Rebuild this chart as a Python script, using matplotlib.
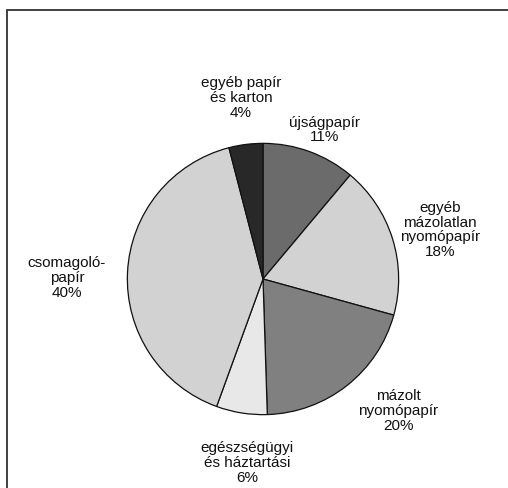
import matplotlib.pyplot as plt
from matplotlib.patches import Rectangle

# paper types and their share (%), clockwise from 12 o'clock
labels = ["újságpapír", "egyéb\nmázolatlan\nnyomópapír", "mázolt\nnyomópapír",
          "egészségügyi\nés háztartási", "csomagoló-\npapír", "egyéb papír\nés karton"]
shares = [11, 18, 20, 6, 40, 4]
colors = ["#6b6b6b", "#d2d2d2", "#808080", "#e8e8e8", "#d2d2d2", "#282828"]

# label centres in pixels (x from left, y from top)
label_px = [(325, 130), (440, 230), (398, 411), (247, 463), (67, 278), (241, 98)]

W, H = 508, 488
fig = plt.figure(figsize=(W / 100, H / 100), dpi=100)
plt.rcParams['font.family'] = ['Liberation Sans', 'DejaVu Sans']

cx, cy, r = 263, 279, 137
ax = fig.add_axes([(cx - r) / W, (H - cy - r) / H, 2 * r / W, 2 * r / H])
ax.pie(shares, colors=colors, startangle=90, counterclock=False, radius=1,
       wedgeprops=dict(edgecolor="#111111", linewidth=0.9))
ax.set_xlim(-1.01, 1.01)
ax.set_ylim(-1.01, 1.01)
ax.set_aspect("equal")
ax.axis("off")

for lab, val, (px, py) in zip(labels, shares, label_px):
    fig.text(px / W, 1 - py / H, f"{lab}\n{val}%", ha="center", va="center",
             fontsize=11, linespacing=1.07, color="#111111")

# outer frame, running off the right and bottom edges
fig.patches.append(Rectangle((7 / W, -0.1), 1.2, 1 - 10 / H + 0.1,
                             transform=fig.transFigure, fill=False,
                             edgecolor="#333333", linewidth=1.3))

fig.savefig("out.png", dpi=100)
